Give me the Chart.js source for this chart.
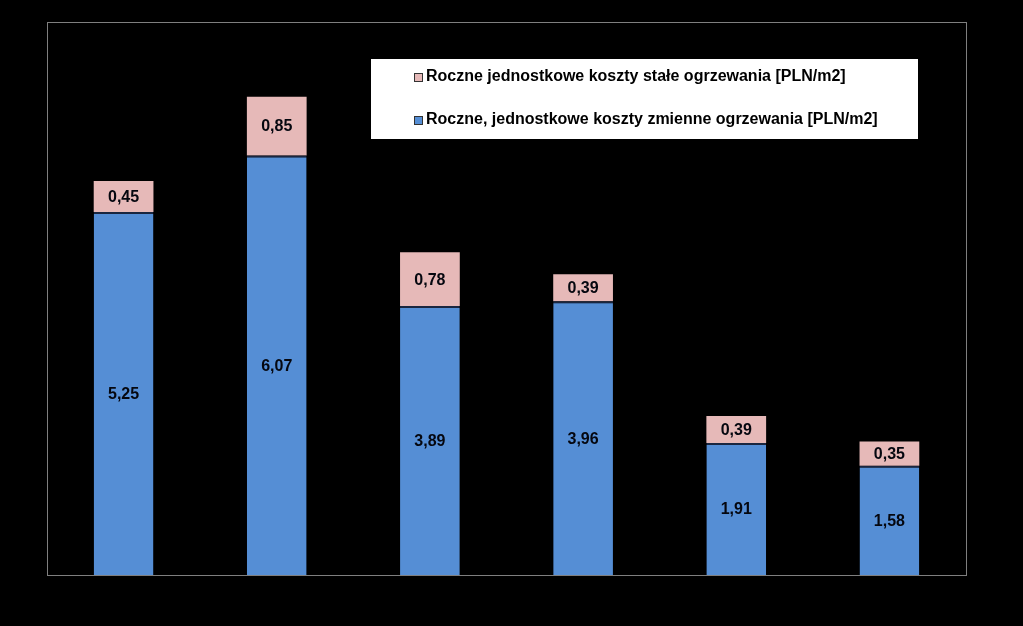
<!DOCTYPE html>
<html>
<head>
<meta charset="utf-8">
<script src="https://cdn.jsdelivr.net/npm/chart.js@4"></script>
<style>
  html, body { margin: 0; padding: 0; background: #000; }
  #wrap { width: 1023px; height: 626px; }
</style>
</head>
<body>
<div id="wrap"><canvas id="costChart"></canvas></div>
<script>
const categories = ['1', '2', '3', '4', '5', '6'];
const variableCosts = [5.25, 6.07, 3.89, 3.96, 1.91, 1.58];
const fixedCosts = [0.45, 0.85, 0.78, 0.39, 0.39, 0.35];
const seriesLabels = [
  'Roczne, jednostkowe koszty zmienne ogrzewania [PLN/m2]',
  'Roczne jednostkowe koszty stałe ogrzewania [PLN/m2]'
];

const FONT = 'bold 16px "Liberation Sans", Arial, sans-serif';

// frame round the plot area
const framePlugin = {
  id: 'frame',
  beforeDatasetsDraw(chart) {
    const a = chart.chartArea, ctx = chart.ctx;
    ctx.save();
    ctx.strokeStyle = '#7f7f7f';
    ctx.lineWidth = 1;
    ctx.strokeRect(a.left + 0.5, a.top + 0.5, a.right - a.left, a.bottom - a.top);
    ctx.restore();
  }
};

// numbers in the middle of each segment
const valuePlugin = {
  id: 'values',
  afterDatasetsDraw(chart) {
    const ctx = chart.ctx;
    ctx.save();
    ctx.font = FONT;
    ctx.fillStyle = '#05070f';
    ctx.textAlign = 'center';
    ctx.textBaseline = 'middle';
    chart.data.datasets.forEach((ds, i) => {
      chart.getDatasetMeta(i).data.forEach((bar, j) => {
        const txt = ds.data[j].toFixed(2).replace('.', ',');
        ctx.fillText(txt, bar.x, (bar.y + bar.base) / 2 + 1);
      });
    });
    ctx.restore();
  }
};

// legend box inside the plot
const legendPlugin = {
  id: 'boxLegend',
  afterDraw(chart) {
    const ctx = chart.ctx;
    const a = chart.chartArea;
    const x0 = a.left + 324, y0 = a.top + 37, w = 547, h = 80;
    ctx.save();
    ctx.fillStyle = '#fff';
    ctx.fillRect(x0, y0, w, h);
    ctx.font = FONT;
    ctx.textBaseline = 'middle';
    const items = chart.data.datasets.slice().reverse();
    items.forEach((ds, k) => {
      const y = y0 + 18 + k * 43;
      ctx.fillStyle = ds.backgroundColor;
      ctx.fillRect(x0 + 43, y - 4, 9, 9);
      ctx.strokeStyle = '#333';
      ctx.lineWidth = 1;
      ctx.strokeRect(x0 + 43.5, y - 3.5, 8, 8);
      ctx.fillStyle = '#000';
      ctx.fillText(ds.label, x0 + 55, y);
    });
    ctx.restore();
  }
};

new Chart(document.getElementById('costChart'), {
  type: 'bar',
  data: {
    labels: categories,
    datasets: [
      {
        label: seriesLabels[0],
        data: variableCosts,
        backgroundColor: '#558ed5',
        borderColor: '#1a2640',
        borderWidth: { top: 2, left: 0, right: 0, bottom: 0 },
        borderSkipped: false,
        barPercentage: 0.39,
        categoryPercentage: 1
      },
      {
        label: seriesLabels[1],
        data: fixedCosts,
        backgroundColor: '#e6b9b8',
        borderColor: '#e6b9b8',
        borderWidth: 0,
        barPercentage: 0.39,
        categoryPercentage: 1
      }
    ]
  },
  options: {
    responsive: true,
    maintainAspectRatio: false,
    animation: false,
    layout: { padding: { left: 47, top: 22, right: 57, bottom: 51 } },
    plugins: {
      legend: { display: false },
      tooltip: { enabled: false }
    },
    scales: {
      x: { stacked: true, display: false },
      y: { stacked: true, display: false, min: 0, max: 8 }
    }
  },
  plugins: [framePlugin, valuePlugin, legendPlugin]
});
</script>
</body>
</html>
